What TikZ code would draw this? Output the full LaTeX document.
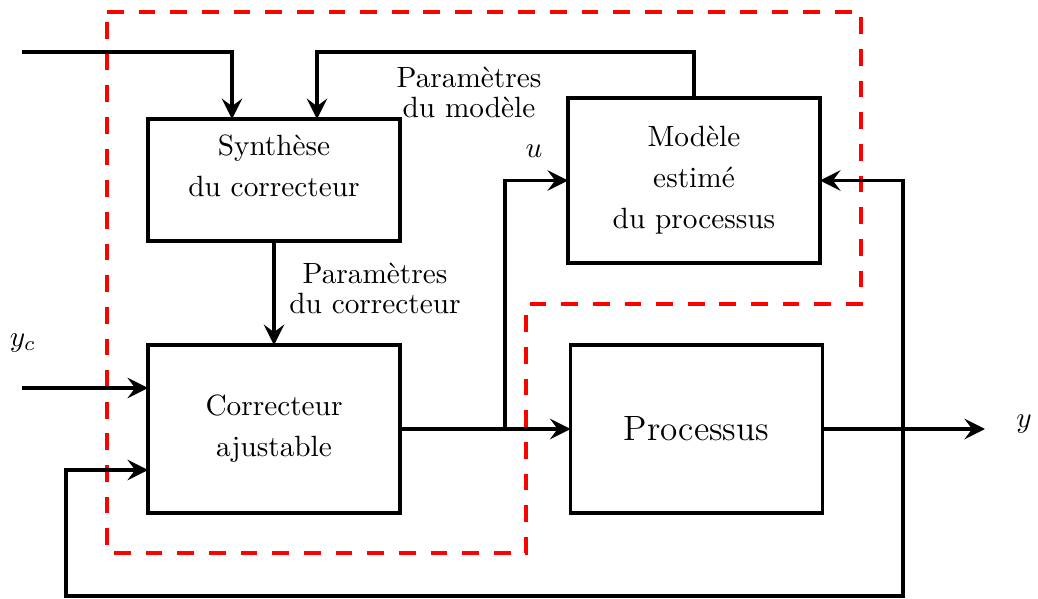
\documentclass[tikz,border=0pt]{standalone}
\usetikzlibrary{arrows.meta,calc}
\begin{document}
\begin{tikzpicture}[x=0.3413pt,y=-0.3413pt,
  blk/.style={draw,line width=1.3pt,inner sep=0pt,outer sep=0pt,minimum width=86pt,
              align=center,font=\fontsize{10}{14}\selectfont},
  lbl/.style={align=center,inner sep=0pt,font=\fontsize{10}{10.2}\selectfont},
  sig/.style={inner sep=0pt},
  arr/.style={line width=1.3pt,-{Stealth[length=7pt,width=7pt,inset=2.6pt]}},
  zone/.style={draw=red,line width=1.3pt,dash pattern=on 5.7pt off 5.1pt}]
\useasboundingbox (0,0) rectangle (1038,599);

% adaptive part of the loop
\draw[zone] (107,12) -- (861,12) -- (861,304) -- (526,304) -- (526,553) -- (107,553) -- cycle;

% blocks
\node[blk,minimum height=41.6pt] (syn) at (274,180) {Synthèse\\du correcteur\\[-4pt]\mbox{}};
\node[blk,minimum height=56.3pt] (mod) at (694,180.5) {Modèle\\estimé\\du processus};
\node[blk,minimum height=57.3pt] (cor) at (274,429) {Correcteur\\ajustable};
\node[blk,minimum height=57.3pt,font=\large] (pro) at (696.5,429) {Processus};

% labels
\node[lbl] (pm) at (469,92) {Paramètres\\du modèle};
\node[lbl] (pc) at (375,288) {Paramètres\\du correcteur};
\node[sig] (yc) at (23,343) {$y_c$};
\node[sig] (u) at (534,151) {$u$};
\node[sig] (y) at (1024,424) {$y$};

% free ends and junctions
\coordinate (inTop) at (22,52);
\coordinate (inYc) at (22,388);
\coordinate (ju) at (505,429);
\coordinate (jy) at (903,429);
\coordinate (outY) at (985,429);

% connectors
\draw[arr] (inTop) -| ($(syn.north west)+(84,0)$);
\draw[arr] (mod.north) |- ++(-100,-46) -| ($(syn.north west)+(169,0)$);
\draw[arr] (syn.south) -- (cor.north);
\draw[arr] (inYc) -- (inYc -| cor.west);
\draw[arr] (cor.east) -- (pro.west);
\draw[arr] (ju) |- (mod.west);
\draw[arr] (pro.east) -- (outY);
\draw[arr] (jy) |- (mod.east);
\draw[arr] (jy) -- (903,596) -| (66,470) -- ($(cor.west)+(0,41)$);
\end{tikzpicture}
\end{document}
